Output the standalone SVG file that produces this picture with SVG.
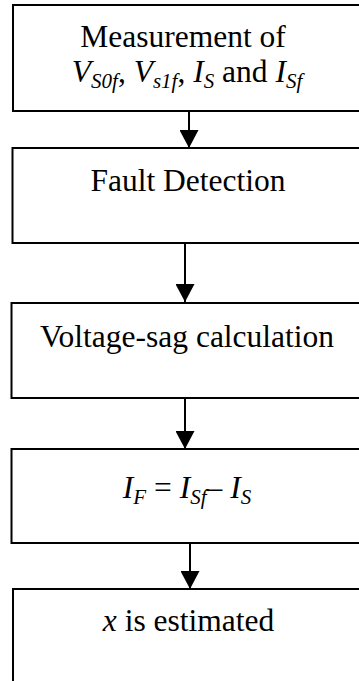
<svg xmlns="http://www.w3.org/2000/svg" width="359" height="681" viewBox="0 0 359 681">
<style>
.box{fill:#fff;stroke:#000;stroke-width:2}
.t{font-family:'Liberation Serif',serif;font-size:31.5px;fill:#000;text-anchor:middle}
.i{font-style:italic}
.s{font-style:italic;font-size:21px}
.ln{stroke:#000;stroke-width:2;fill:none}
</style>
<defs>
<marker id="ah" markerUnits="userSpaceOnUse" markerWidth="20" markerHeight="19" refX="18" refY="9.5" orient="auto">
<path d="M0,0 L18,9.5 L0,19 Z" fill="#000"/>
</marker>
</defs>
<rect width="359" height="681" fill="#fff"/>
<g id="n1">
<rect class="box" x="13" y="5" width="360" height="106"/>
<text class="t" x="183" y="47">Measurement of</text>
<text class="t" x="187" y="82"><tspan class="i">V</tspan><tspan class="s" dy="6">S0f</tspan><tspan dy="-6">, </tspan><tspan class="i">V</tspan><tspan class="s" dy="6">s1f</tspan><tspan dy="-6">, </tspan><tspan class="i">I</tspan><tspan class="s" dy="6">S</tspan><tspan dy="-6"> and </tspan><tspan class="i">I</tspan><tspan class="s" dy="6">Sf</tspan></text>
</g>
<g id="n2">
<rect class="box" x="12.5" y="148" width="360" height="95"/>
<text class="t" x="188" y="191">Fault Detection</text>
</g>
<g id="n3">
<rect class="box" x="11.5" y="303" width="360" height="95"/>
<text class="t" x="187" y="347">Voltage-sag calculation</text>
</g>
<g id="n4">
<rect class="box" x="11.5" y="449" width="360" height="94"/>
<text class="t" x="187" y="498"><tspan class="i">I</tspan><tspan class="s" dy="6">F</tspan><tspan dy="-6"> = </tspan><tspan class="i">I</tspan><tspan class="s" dy="6">Sf</tspan><tspan dy="-6">– </tspan><tspan class="i">I</tspan><tspan class="s" dy="6">S</tspan></text>
</g>
<g id="n5">
<rect class="box" x="13" y="589" width="360" height="120"/>
<text class="t" x="188.5" y="631"><tspan class="i">x</tspan> is estimated</text>
</g>
<g id="connectors">
<line class="ln" x1="189" y1="111" x2="189" y2="148" marker-end="url(#ah)"/>
<line class="ln" x1="185" y1="243" x2="185" y2="302" marker-end="url(#ah)"/>
<line class="ln" x1="185" y1="398" x2="185" y2="449" marker-end="url(#ah)"/>
<line class="ln" x1="190" y1="543" x2="190" y2="589" marker-end="url(#ah)"/>
</g>
</svg>
